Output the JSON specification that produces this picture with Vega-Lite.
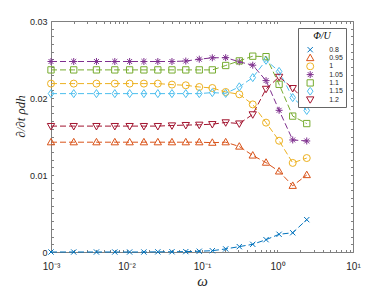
{
  "$schema": "https://vega.github.io/schema/vega-lite/v6.json",
  "width": 302,
  "height": 231,
  "autosize": "none",
  "padding": {"left": 51, "top": 21, "right": 37, "bottom": 41},
  "background": "white",
  "config": {
    "view": {"stroke": null},
    "axis": {"grid": false, "labelFont": "Liberation Sans", "labelFontSize": 9, "labelColor": "#262626", "domainColor": "#808080", "tickColor": "#808080", "titleColor": "#262626"},
    "legend": {"orient": "top-right", "offset": 7, "titleFont": "Liberation Serif", "titleFontStyle": "italic", "titleFontSize": 10, "titleFontWeight": "normal", "titleColor": "#000000", "titleAnchor": "middle", "titlePadding": 4.7,
      "labelFont": "Liberation Sans", "labelFontSize": 7, "labelColor": "#262626", "padding": 3, "fillColor": "white", "strokeColor": "#666666", "symbolSize": 49, "symbolStrokeWidth": 1, "symbolOffset": 5.2, "labelOffset": 15, "rowPadding": 0.3, "clipHeight": 8}
  },
  "data": {"values": [
    {"w":0.001,"phi":"0.8","v":0},{"w":0.002,"phi":"0.8","v":0},{"w":0.004,"phi":"0.8","v":0},{"w":0.007,"phi":"0.8","v":0},{"w":0.011,"phi":"0.8","v":0},{"w":0.017,"phi":"0.8","v":0},{"w":0.026,"phi":"0.8","v":0.00002},{"w":0.04,"phi":"0.8","v":0.00003},{"w":0.061,"phi":"0.8","v":0.00005},{"w":0.092,"phi":"0.8","v":0.0001},{"w":0.137,"phi":"0.8","v":0.00017},{"w":0.206,"phi":"0.8","v":0.0004},{"w":0.312,"phi":"0.8","v":0.0007},{"w":0.47,"phi":"0.8","v":0.001},{"w":0.705,"phi":"0.8","v":0.0016},{"w":1.05,"phi":"0.8","v":0.0023},{"w":1.59,"phi":"0.8","v":0.0025},{"w":2.44,"phi":"0.8","v":0.0042},
    {"w":0.001,"phi":"0.95","v":0.01426},{"w":0.002,"phi":"0.95","v":0.01426},{"w":0.004,"phi":"0.95","v":0.01426},{"w":0.007,"phi":"0.95","v":0.01426},{"w":0.011,"phi":"0.95","v":0.01426},{"w":0.017,"phi":"0.95","v":0.01426},{"w":0.026,"phi":"0.95","v":0.01426},{"w":0.04,"phi":"0.95","v":0.01426},{"w":0.061,"phi":"0.95","v":0.01426},{"w":0.092,"phi":"0.95","v":0.01426},{"w":0.137,"phi":"0.95","v":0.0142},{"w":0.206,"phi":"0.95","v":0.01426},{"w":0.312,"phi":"0.95","v":0.0137},{"w":0.47,"phi":"0.95","v":0.01254},{"w":0.705,"phi":"0.95","v":0.01161},{"w":1.05,"phi":"0.95","v":0.01047},{"w":1.59,"phi":"0.95","v":0.0086},{"w":2.44,"phi":"0.95","v":0.01},
    {"w":0.001,"phi":"1","v":0.02187},{"w":0.002,"phi":"1","v":0.02187},{"w":0.004,"phi":"1","v":0.02187},{"w":0.007,"phi":"1","v":0.02187},{"w":0.011,"phi":"1","v":0.02187},{"w":0.017,"phi":"1","v":0.02187},{"w":0.026,"phi":"1","v":0.02187},{"w":0.04,"phi":"1","v":0.02174},{"w":0.061,"phi":"1","v":0.02165},{"w":0.092,"phi":"1","v":0.02143},{"w":0.137,"phi":"1","v":0.0213},{"w":0.206,"phi":"1","v":0.02078},{"w":0.312,"phi":"1","v":0.02048},{"w":0.47,"phi":"1","v":0.01917},{"w":0.705,"phi":"1","v":0.0168},{"w":1.05,"phi":"1","v":0.01445},{"w":1.59,"phi":"1","v":0.01157},{"w":2.44,"phi":"1","v":0.0122},
    {"w":0.001,"phi":"1.05","v":0.02474},{"w":0.002,"phi":"1.05","v":0.02474},{"w":0.004,"phi":"1.05","v":0.02474},{"w":0.007,"phi":"1.05","v":0.02474},{"w":0.011,"phi":"1.05","v":0.02474},{"w":0.017,"phi":"1.05","v":0.02474},{"w":0.026,"phi":"1.05","v":0.02474},{"w":0.04,"phi":"1.05","v":0.02474},{"w":0.061,"phi":"1.05","v":0.0248},{"w":0.092,"phi":"1.05","v":0.02504},{"w":0.137,"phi":"1.05","v":0.02522},{"w":0.206,"phi":"1.05","v":0.02524},{"w":0.312,"phi":"1.05","v":0.0247},{"w":0.47,"phi":"1.05","v":0.02426},{"w":0.705,"phi":"1.05","v":0.02226},{"w":1.05,"phi":"1.05","v":0.0184},{"w":1.59,"phi":"1.05","v":0.01455},{"w":2.44,"phi":"1.05","v":0.01442},
    {"w":0.001,"phi":"1.1","v":0.02365},{"w":0.002,"phi":"1.1","v":0.02365},{"w":0.004,"phi":"1.1","v":0.02365},{"w":0.007,"phi":"1.1","v":0.02365},{"w":0.011,"phi":"1.1","v":0.02365},{"w":0.017,"phi":"1.1","v":0.02365},{"w":0.026,"phi":"1.1","v":0.02365},{"w":0.04,"phi":"1.1","v":0.02365},{"w":0.061,"phi":"1.1","v":0.02365},{"w":0.092,"phi":"1.1","v":0.02365},{"w":0.137,"phi":"1.1","v":0.02365},{"w":0.206,"phi":"1.1","v":0.02422},{"w":0.312,"phi":"1.1","v":0.02482},{"w":0.47,"phi":"1.1","v":0.02543},{"w":0.705,"phi":"1.1","v":0.02537},{"w":1.05,"phi":"1.1","v":0.02178},{"w":1.59,"phi":"1.1","v":0.01765},{"w":2.44,"phi":"1.1","v":0.01668},
    {"w":0.001,"phi":"1.15","v":0.02057},{"w":0.002,"phi":"1.15","v":0.02057},{"w":0.004,"phi":"1.15","v":0.02057},{"w":0.007,"phi":"1.15","v":0.02057},{"w":0.011,"phi":"1.15","v":0.02057},{"w":0.017,"phi":"1.15","v":0.02057},{"w":0.026,"phi":"1.15","v":0.02057},{"w":0.04,"phi":"1.15","v":0.02057},{"w":0.061,"phi":"1.15","v":0.02057},{"w":0.092,"phi":"1.15","v":0.02057},{"w":0.137,"phi":"1.15","v":0.0207},{"w":0.206,"phi":"1.15","v":0.0206},{"w":0.312,"phi":"1.15","v":0.02145},{"w":0.47,"phi":"1.15","v":0.02265},{"w":0.705,"phi":"1.15","v":0.0249},{"w":1.05,"phi":"1.15","v":0.02345},{"w":1.59,"phi":"1.15","v":0.02005},{"w":2.44,"phi":"1.15","v":0.01838},
    {"w":0.001,"phi":"1.2","v":0.01635},{"w":0.002,"phi":"1.2","v":0.01635},{"w":0.004,"phi":"1.2","v":0.01635},{"w":0.007,"phi":"1.2","v":0.01635},{"w":0.011,"phi":"1.2","v":0.01635},{"w":0.017,"phi":"1.2","v":0.01635},{"w":0.026,"phi":"1.2","v":0.01635},{"w":0.04,"phi":"1.2","v":0.01643},{"w":0.061,"phi":"1.2","v":0.01648},{"w":0.092,"phi":"1.2","v":0.01652},{"w":0.137,"phi":"1.2","v":0.0166},{"w":0.206,"phi":"1.2","v":0.01683},{"w":0.312,"phi":"1.2","v":0.01668},{"w":0.47,"phi":"1.2","v":0.01787},{"w":0.705,"phi":"1.2","v":0.02118},{"w":1.05,"phi":"1.2","v":0.02274},{"w":1.59,"phi":"1.2","v":0.02128},{"w":2.44,"phi":"1.2","v":0.0194}
  ]},
  "resolve": {"axis": {"x": "independent", "y": "independent"}},
  "layer": [
    {
      "mark": {"type": "point", "filled": false, "size": 49, "strokeWidth": 1, "opacity": 1},
      "encoding": {
        "x": {"field": "w", "type": "quantitative", "scale": {"type": "log", "domain": [0.001, 10]},
          "axis": {"orient": "bottom", "values": [0.001, 0.01, 0.1, 1, 10], "ticks": false, "labelPadding": 9, "labelFontSize": 10, "labelFlush": false, "labelOverlap": false,
            "labelExpr": "datum.value == 0.001 ? '10⁻³' : datum.value == 0.01 ? '10⁻²' : datum.value == 0.1 ? '10⁻¹' : datum.value == 1 ? '10⁰' : '10¹'",
            "title": "ω", "titleFont": "Liberation Serif", "titleFontStyle": "italic", "titleFontSize": 15, "titleFontWeight": "normal", "titleY": 33.5, "titleBaseline": "alphabetic"}},
        "y": {"field": "v", "type": "quantitative", "scale": {"domain": [0, 0.03]},
          "axis": {"orient": "left", "values": [0, 0.01, 0.02, 0.03], "ticks": false, "labelPadding": 4,
            "labelExpr": "datum.value == 0 ? '0' : format(datum.value, '.2f')",
            "title": "∂/∂t ρdh", "titleFont": "Liberation Serif", "titleFontStyle": "italic", "titleFontSize": 13, "titleFontWeight": "normal", "titleX": -31, "titleY": 95, "titleAngle": 270, "titleAlign": "center", "titleBaseline": "middle"}},
        "color": {"field": "phi", "type": "nominal",
          "scale": {"domain": ["0.8", "0.95", "1", "1.05", "1.1", "1.15", "1.2"], "range": ["#0072BD", "#D95319", "#EDB120", "#7E2F8E", "#77AC30", "#4DBEEE", "#A2142F"]},
          "legend": {"title": "Φ/U",
            "encode": {"symbols": {"fill": {"value": "transparent"}, "strokeDash": {"value": []}, "shape": {"value": {"expr": "datum.value == '0.8' ? 'M-2.6,0L2.6,0M-0.75,-0.75L0.75,0.75M-0.75,0.75L0.75,-0.75' : datum.value == '0.95' ? 'M-2.6,0L2.6,0M0,-1.1L1.05,0.75L-1.05,0.75Z' : datum.value == '1' ? 'M-2.6,0L2.6,0M1,0A1,1,0,1,1,-1,0A1,1,0,1,1,1,0Z' : datum.value == '1.05' ? 'M-2.6,0L2.6,0M0,-1L0,1M-0.7,-0.7L0.7,0.7M-0.7,0.7L0.7,-0.7' : datum.value == '1.1' ? 'M-2.6,0L2.6,0M-0.9,-0.9L0.9,-0.9L0.9,0.9L-0.9,0.9Z' : datum.value == '1.15' ? 'M-2.6,0L2.6,0M0,-1.15L0.8,0L0,1.15L-0.8,0Z' : 'M-2.6,0L2.6,0M0,1.1L1.05,-0.75L-1.05,-0.75Z'"}}}}}},
        "shape": {"field": "phi", "type": "nominal",
          "scale": {"domain": ["0.8", "0.95", "1", "1.05", "1.1", "1.15", "1.2"], "range": ["M-0.75,-0.75L0.75,0.75M-0.75,0.75L0.75,-0.75", "M0,-1.1L1.05,0.75L-1.05,0.75Z", "circle", "M-1,0L1,0M0,-1L0,1M-0.7,-0.7L0.7,0.7M-0.7,0.7L0.7,-0.7", "M-0.9,-0.9L0.9,-0.9L0.9,0.9L-0.9,0.9Z", "M0,-1.15L0.8,0L0,1.15L-0.8,0Z", "M0,1.1L1.05,-0.75L-1.05,-0.75Z"]},
          "legend": {"title": "Φ/U"}}
      }
    },
    {
      "mark": {"type": "line", "strokeDash": [6, 3], "strokeWidth": 1},
      "encoding": {
        "x": {"field": "w", "type": "quantitative", "scale": {"type": "log", "domain": [0.001, 10]}, "axis": null},
        "y": {"field": "v", "type": "quantitative", "scale": {"domain": [0, 0.03]}, "axis": null},
        "color": {"field": "phi", "type": "nominal",
          "scale": {"domain": ["0.8", "0.95", "1", "1.05", "1.1", "1.15", "1.2"], "range": ["#0072BD", "#D95319", "#EDB120", "#7E2F8E", "#77AC30", "#4DBEEE", "#A2142F"]},
          "legend": {"title": "Φ/U"}}
      }
    },
    {
      "mark": {"type": "point", "opacity": 0},
      "encoding": {
        "x": {"field": "w", "type": "quantitative", "scale": {"type": "log", "domain": [0.001, 10]},
          "axis": {"orient": "bottom", "labels": false, "domain": false, "tickSize": -2.5, "title": null,
            "values": [0.001,0.002,0.003,0.004,0.005,0.006,0.007,0.008,0.009,0.01,0.02,0.03,0.04,0.05,0.06,0.07,0.08,0.09,0.1,0.2,0.3,0.4,0.5,0.6,0.7,0.8,0.9,1,2,3,4,5,6,7,8,9,10]}},
        "y": {"field": "v", "type": "quantitative", "scale": {"domain": [0, 0.03]},
          "axis": {"orient": "left", "labels": false, "domain": false, "tickSize": -2.5, "title": null,
            "values": [0,0.001,0.002,0.003,0.004,0.005,0.006,0.007,0.008,0.009,0.01,0.011,0.012,0.013,0.014,0.015,0.016,0.017,0.018,0.019,0.02,0.021,0.022,0.023,0.024,0.025,0.026,0.027,0.028,0.029,0.03]}}
      }
    },
    {
      "mark": {"type": "point", "opacity": 0},
      "encoding": {
        "x": {"field": "w", "type": "quantitative", "scale": {"type": "log", "domain": [0.001, 10]},
          "axis": {"orient": "top", "labels": false, "domain": true, "tickSize": -2.5, "title": null,
            "values": [0.001,0.002,0.003,0.004,0.005,0.006,0.007,0.008,0.009,0.01,0.02,0.03,0.04,0.05,0.06,0.07,0.08,0.09,0.1,0.2,0.3,0.4,0.5,0.6,0.7,0.8,0.9,1,2,3,4,5,6,7,8,9,10]}},
        "y": {"field": "v", "type": "quantitative", "scale": {"domain": [0, 0.03]},
          "axis": {"orient": "right", "labels": false, "domain": true, "tickSize": -2.5, "title": null,
            "values": [0,0.001,0.002,0.003,0.004,0.005,0.006,0.007,0.008,0.009,0.01,0.011,0.012,0.013,0.014,0.015,0.016,0.017,0.018,0.019,0.02,0.021,0.022,0.023,0.024,0.025,0.026,0.027,0.028,0.029,0.03]}}
      }
    }
  ]
}
